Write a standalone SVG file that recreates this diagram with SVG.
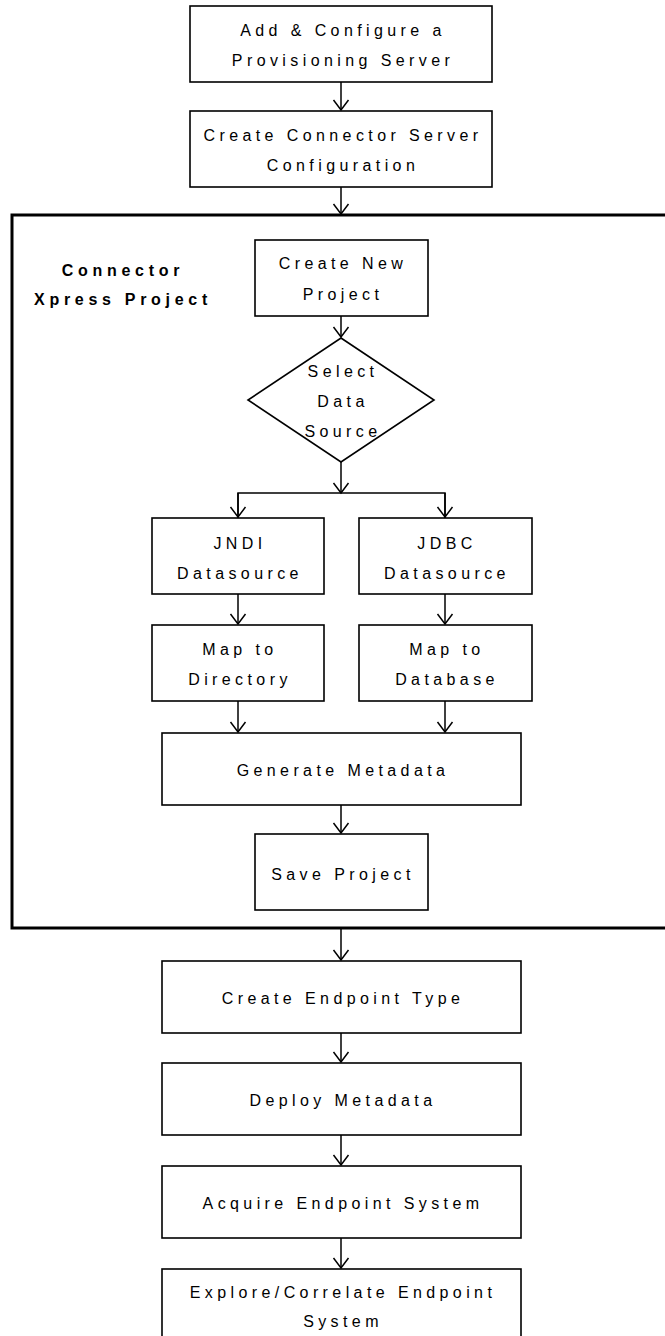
<svg xmlns="http://www.w3.org/2000/svg" width="665" height="1336" viewBox="0 0 665 1336">
<defs>
<marker id="arr" markerUnits="userSpaceOnUse" markerWidth="20" markerHeight="20" refX="12" refY="10" orient="auto" viewBox="0 0 20 20">
<path d="M2,2.5 L12,10 L2,17.5" fill="none" stroke="#000" stroke-width="1.5"/>
</marker>
<style>
.box{fill:#fff;stroke:#000;stroke-width:1.6}
.t{font-family:"Liberation Sans",Arial,sans-serif;font-size:16px;letter-spacing:4.4px;text-anchor:middle;fill:#000}
.b{font-family:"Liberation Sans",Arial,sans-serif;font-size:16px;font-weight:bold;letter-spacing:4.7px;text-anchor:middle;fill:#000}
.c{fill:none;stroke:#000;stroke-width:1.5}
</style>
</defs>
<rect width="665" height="1336" fill="#fff"/>
<g id="container">
<rect x="12" y="215" width="680" height="713" fill="none" stroke="#000" stroke-width="3"/>
<text class="b" x="123" y="276">Connector</text>
<text class="b" x="123" y="305">Xpress Project</text>
</g>
<g id="n1"><rect class="box" x="190" y="6" width="302" height="76"/>
<text class="t" x="343" y="36">Add &amp; Configure a</text>
<text class="t" x="343" y="66">Provisioning Server</text></g>
<g id="n2"><rect class="box" x="190" y="111" width="302" height="76"/>
<text class="t" x="343" y="141">Create Connector Server</text>
<text class="t" x="343" y="171">Configuration</text></g>
<g id="n3"><rect class="box" x="255" y="240" width="173" height="76"/>
<text class="t" x="343" y="269">Create New</text>
<text class="t" x="343" y="300">Project</text></g>
<g id="n4"><polygon class="box" points="341,338 434,400 341,462 248,400"/>
<text class="t" x="343" y="377">Select</text>
<text class="t" x="343" y="407">Data</text>
<text class="t" x="343" y="437">Source</text></g>
<g id="n5"><rect class="box" x="152" y="518" width="172" height="76"/>
<text class="t" x="240" y="549">JNDI</text>
<text class="t" x="240" y="579">Datasource</text></g>
<g id="n6"><rect class="box" x="359" y="518" width="173" height="76"/>
<text class="t" x="447" y="549">JDBC</text>
<text class="t" x="447" y="579">Datasource</text></g>
<g id="n7"><rect class="box" x="152" y="625" width="172" height="76"/>
<text class="t" x="240" y="655">Map to</text>
<text class="t" x="240" y="685">Directory</text></g>
<g id="n8"><rect class="box" x="359" y="625" width="173" height="76"/>
<text class="t" x="447" y="655">Map to</text>
<text class="t" x="447" y="685">Database</text></g>
<g id="n9"><rect class="box" x="162" y="733" width="359" height="72"/>
<text class="t" x="343" y="776">Generate Metadata</text></g>
<g id="n10"><rect class="box" x="255" y="834" width="173" height="76"/>
<text class="t" x="343" y="880">Save Project</text></g>
<g id="n11"><rect class="box" x="162" y="961" width="359" height="72"/>
<text class="t" x="343" y="1004">Create Endpoint Type</text></g>
<g id="n12"><rect class="box" x="162" y="1063" width="359" height="72"/>
<text class="t" x="343" y="1106">Deploy Metadata</text></g>
<g id="n13"><rect class="box" x="162" y="1166" width="359" height="72"/>
<text class="t" x="343" y="1209">Acquire Endpoint System</text></g>
<g id="n14"><rect class="box" x="162" y="1269" width="359" height="80"/>
<text class="t" x="343" y="1298">Explore/Correlate Endpoint</text>
<text class="t" x="343" y="1327">System</text></g>
<g id="connectors">
<path class="c" d="M341,82 V110" marker-end="url(#arr)"/>
<path class="c" d="M341,187 V214" marker-end="url(#arr)"/>
<path class="c" d="M341,316 V337" marker-end="url(#arr)"/>
<path class="c" d="M341,462 V493" marker-end="url(#arr)"/>
<path class="c" d="M238,518 V493 H445 V518"/>
<path class="c" d="M238,493 V517" marker-end="url(#arr)"/>
<path class="c" d="M445,493 V517" marker-end="url(#arr)"/>
<path class="c" d="M238,594 V624" marker-end="url(#arr)"/>
<path class="c" d="M445,594 V624" marker-end="url(#arr)"/>
<path class="c" d="M238,701 V732" marker-end="url(#arr)"/>
<path class="c" d="M445,701 V732" marker-end="url(#arr)"/>
<path class="c" d="M341,805 V833" marker-end="url(#arr)"/>
<path class="c" d="M341,929 V960" marker-end="url(#arr)"/>
<path class="c" d="M341,1033 V1062" marker-end="url(#arr)"/>
<path class="c" d="M341,1135 V1165" marker-end="url(#arr)"/>
<path class="c" d="M341,1238 V1268" marker-end="url(#arr)"/>
</g>
</svg>
